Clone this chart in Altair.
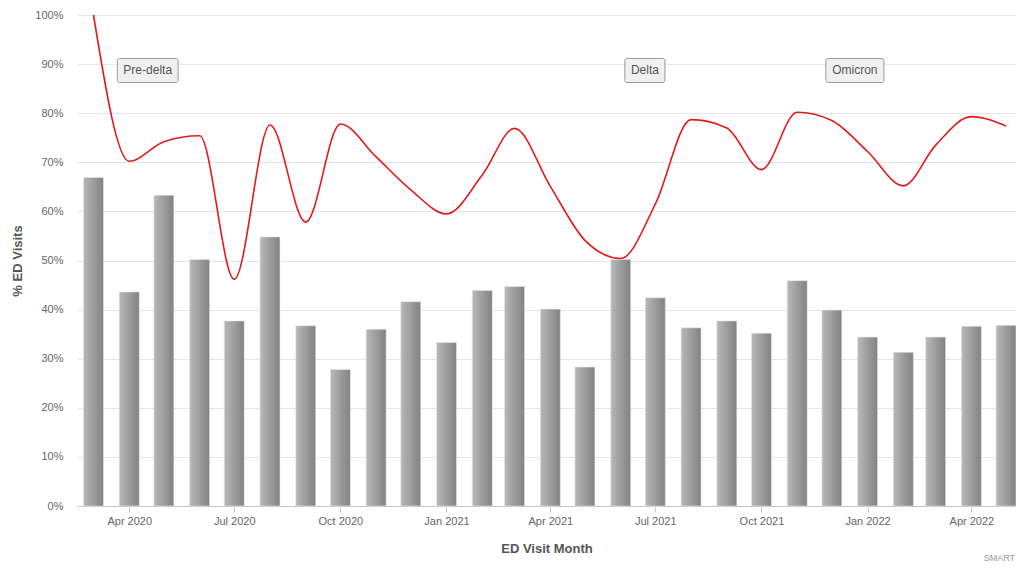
import altair as alt
import pandas as pd

# ---- data ----
months = [
    "2020-03-01", "2020-04-01", "2020-05-01", "2020-06-01", "2020-07-01", "2020-08-01",
    "2020-09-01", "2020-10-01", "2020-11-01", "2020-12-01",
    "2021-01-01", "2021-02-01", "2021-03-01", "2021-04-01", "2021-05-01", "2021-06-01",
    "2021-07-01", "2021-08-01", "2021-09-01", "2021-10-01", "2021-11-01", "2021-12-01",
    "2022-01-01", "2022-02-01", "2022-03-01", "2022-04-01", "2022-05-01",
]
bar_pct = [
    66.9, 43.6, 63.3, 50.2, 37.7, 54.8, 36.7, 27.8, 36.0, 41.6,
    33.3, 43.9, 44.7, 40.1, 28.3, 50.2, 42.4, 36.3, 37.7, 35.2, 45.9, 39.9,
    34.4, 31.3, 34.4, 36.6, 36.8,
]
line_pct = [
    100.0, 70.2, 74.2, 75.4, 46.2, 77.6, 57.8, 77.8, 71.1, 64.4,
    59.5, 67.4, 76.9, 65.1, 54.1, 50.4, 61.5, 78.7, 77.0, 68.5, 80.2, 78.5,
    72.2, 65.2, 73.5, 79.3, 77.4,
]
ann_labels = ["Pre-delta", "Delta", "Omicron"]
ann_dates = ["2020-04-17", "2021-06-22", "2021-12-21"]
ann_pct = [88.7, 88.7, 88.7]
x_ticks = ["2020-04-01", "2020-07-01", "2020-10-01", "2021-01-01", "2021-04-01",
           "2021-07-01", "2021-10-01", "2022-01-01", "2022-04-01"]
credit = "SMART"

# ---- tables ----
df = pd.DataFrame({"month": months, "bar": [v / 100 for v in bar_pct],
                   "line": [v / 100 for v in line_pct]})
ann = pd.DataFrame({"date": ann_dates, "label": ann_labels,
                    "y": [v / 100 for v in ann_pct]})

def ms(s):
    return int(pd.Timestamp(s, tz="UTC").value // 10**6)

x_domain = [ms("2020-02-15 17:00"), ms("2022-05-09 16:00")]
x_scale = alt.Scale(type="utc", domain=x_domain, nice=False, padding=0, zero=False)
y_scale = alt.Scale(domain=[0, 1], nice=False, padding=0)

PW, PH = 939, 491
FONT = "Liberation Sans"

# approximate glyph widths (12px Liberation Sans) to size the label boxes
CW = {"P": 8.0, "D": 8.7, "O": 9.3, "m": 10.0, "i": 2.7, "l": 2.7, "t": 3.3,
      "r": 4.0, "-": 4.0, "f": 3.3}

def text_w(s):
    return sum(CW.get(c, 6.7) for c in s)

x_axis = alt.Axis(
    values=[ms(t) for t in x_ticks],
    labelExpr="utcFormat(datum.value, '%b %Y')",
    grid=False, domain=True, domainColor="#c4c4c4", ticks=True, tickColor="#cccccc",
    tickSize=6, labelPadding=3, labelFontSize=11, labelColor="#666666", labelFont=FONT,
    title="ED Visit Month", titleFontSize=13, titleFont=FONT, titleColor="#555555",
    titleFontWeight="bold", titleY=42, titleBaseline="middle",
)
y_axis = alt.Axis(
    values=[i / 10 for i in range(11)], format=".0%", grid=True, gridColor="#e6e6e6",
    domain=False, ticks=False, tickSize=0, labelPadding=14, labelFontSize=11,
    labelColor="#666666", labelFont=FONT,
    title="% ED Visits", titleFontSize=13, titleFont=FONT, titleColor="#555555",
    titleFontWeight="bold", titleX=-60, titleY=PH / 2, titleBaseline="middle",
    titleAngle=270, titleAlign="center",
)

base = alt.Chart(df)

bars = base.mark_bar(
    width=20,
    color=alt.Gradient(
        gradient="linear", x1=0, x2=1, y1=0, y2=0,
        stops=[alt.GradientStop(offset=0, color="#b8b8b8"),
               alt.GradientStop(offset=1, color="#828282")],
    ),
    stroke="#e8e8e8", strokeWidth=0.6,
).encode(
    x=alt.X("month:T", scale=x_scale, axis=x_axis),
    y=alt.Y("bar:Q", scale=y_scale, axis=y_axis),
)

line = base.mark_line(color="#e31a1c", strokeWidth=1.6, interpolate="monotone").encode(
    x=alt.X("month:T", scale=x_scale),
    y=alt.Y("line:Q", scale=y_scale),
)

layers = [bars, line]
for lab in ann_labels:
    sub = ann[ann["label"] == lab]
    w = text_w(lab) + 12
    box = alt.Chart(sub).mark_rect(
        width=w, height=24, fill="#f0f0f0", stroke="#999999", strokeWidth=1,
        cornerRadius=2,
    ).encode(x=alt.X("date:T", scale=x_scale), y=alt.Y("y:Q", scale=y_scale))
    txt = alt.Chart(sub).mark_text(
        fontSize=12, font=FONT, color="#555555", align="center", baseline="middle",
    ).encode(x=alt.X("date:T", scale=x_scale), y=alt.Y("y:Q", scale=y_scale),
             text="label:N")
    layers += [box, txt]

cred = alt.Chart(pd.DataFrame({"t": [credit]})).mark_text(
    fontSize=9, font=FONT, color="#999999", align="right", baseline="bottom",
).encode(x=alt.value(PW - 1), y=alt.value(PH + 57), text="t:N")
layers.append(cred)

chart = alt.layer(*layers).properties(
    width=PW, height=PH,
    autosize=alt.AutoSizeParams(type="none"),
    padding={"left": 69, "top": 7, "right": 0, "bottom": 57},
    background="white",
).configure_view(stroke=None)

chart.save("out.html", embed_options={"renderer": "svg", "actions": False})
